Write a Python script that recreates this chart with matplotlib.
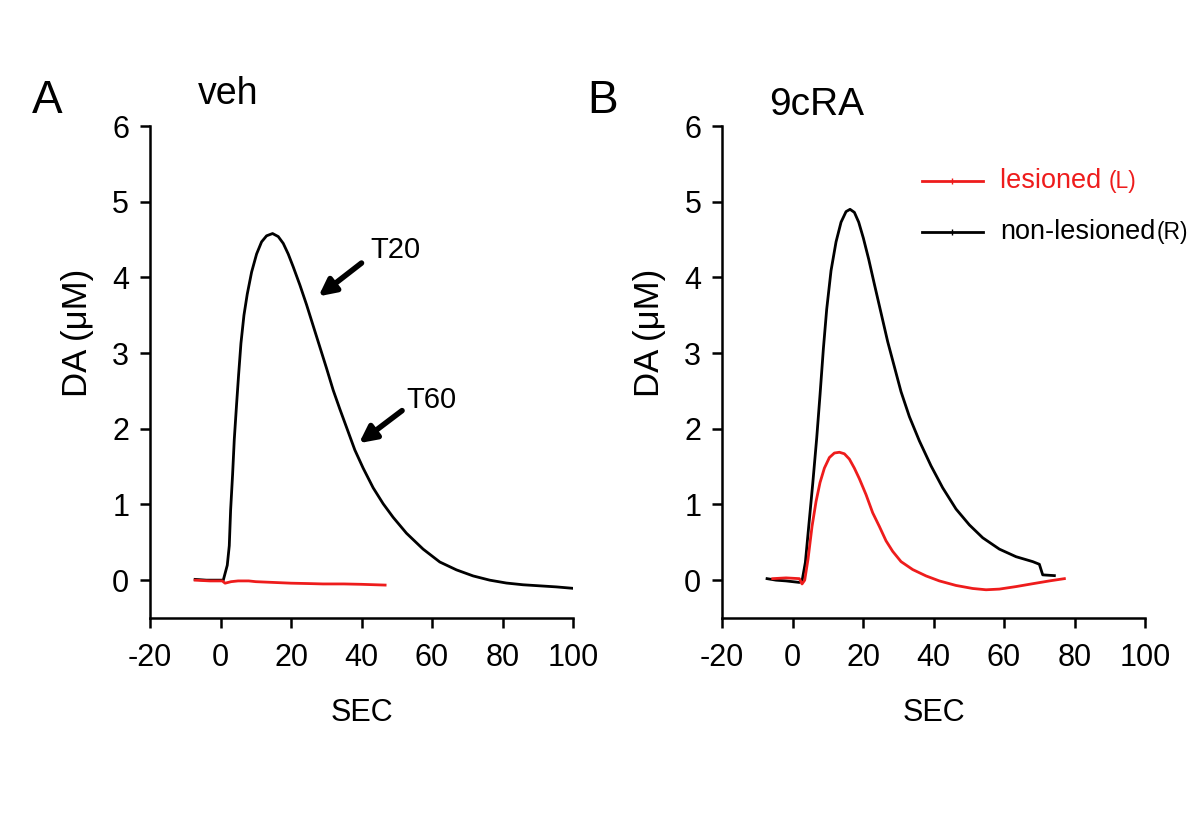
import matplotlib
matplotlib.use("Agg")
import matplotlib.pyplot as plt

plt.rcParams['font.family'] = ['Liberation Sans', 'DejaVu Sans']

# ---- Panel A (veh) ----
a_black_x = [-7.2, -4.0, -1.0, 0.79, 1.92, 2.49, 2.87, 3.43, 3.91, 4.57, 5.13, 5.80, 6.65, 7.59,
             8.82, 10.24, 11.65, 13.07, 14.77, 16.38, 17.80, 19.21, 20.63, 22.52, 24.41, 26.30,
             28.19, 30.08, 31.97, 33.86, 35.75, 38.11, 40.47, 43.31, 46.14, 48.98, 52.76, 57.48,
             62.21, 66.93, 71.66, 76.38, 81.10, 85.83, 90.55, 95.28, 100.0]
a_black_y = [0.01, 0.0, 0.0, 0.0, 0.197, 0.455, 0.925, 1.395, 1.86, 2.33, 2.71, 3.13, 3.50, 3.78,
             4.07, 4.31, 4.47, 4.55, 4.58, 4.54, 4.45, 4.31, 4.14, 3.90, 3.64, 3.36,
             3.08, 2.80, 2.51, 2.26, 2.02, 1.72, 1.48, 1.22, 1.01, 0.83, 0.62, 0.41,
             0.24, 0.136, 0.056, 0.0, -0.038, -0.061, -0.075, -0.089, -0.108]
a_red_x = [-7.2, -3.0, 0.5, 1.3, 3.0, 5.0, 8.0, 10.0, 15.0, 20.0, 25.0, 29.1, 35.0, 40.0, 46.7]
a_red_y = [0.0, -0.01, -0.01, -0.04, -0.02, -0.01, -0.01, -0.02, -0.03, -0.04, -0.045, -0.05,
           -0.05, -0.055, -0.065]

# ---- Panel B (9cRA) ----
b_black_x = [-7.23, -4.68, -1.84, 1.94, 2.70, 3.64, 4.59, 5.72, 6.86, 7.80, 8.75, 9.69, 10.92,
             12.34, 13.76, 15.18, 16.31, 17.54, 18.77, 20.09, 21.61, 23.22, 25.11, 27.00, 28.89,
             30.78, 33.15, 35.98, 39.29, 42.60, 46.38, 50.17, 53.95, 58.68, 63.40, 68.13, 70.02,
             70.97, 74.28]
b_black_y = [0.02, 0.0, -0.01, -0.03, -0.01, 0.235, 0.71, 1.27, 1.88, 2.45, 3.06, 3.58, 4.09,
             4.47, 4.73, 4.87, 4.90, 4.86, 4.73, 4.52, 4.24, 3.91, 3.53, 3.15, 2.82,
             2.49, 2.16, 1.84, 1.51, 1.22, 0.94, 0.73, 0.56, 0.41, 0.31, 0.245, 0.21,
             0.07, 0.06]
b_red_x = [-5.63, -1.84, 1.94, 2.70, 3.45, 4.40, 5.53, 6.67, 7.80, 9.03, 10.45, 11.87, 13.29,
           14.70, 16.12, 17.54, 18.96, 20.85, 22.74, 24.63, 26.52, 28.42, 30.78, 34.09, 37.87,
           41.65, 46.38, 51.11, 54.89, 58.68, 63.40, 68.13, 72.86, 77.12]
b_red_y = [0.02, 0.03, 0.02, -0.05, 0.0, 0.28, 0.71, 1.04, 1.29, 1.48, 1.62, 1.68, 1.69,
           1.67, 1.60, 1.48, 1.34, 1.13, 0.89, 0.71, 0.52, 0.38, 0.245, 0.14, 0.056,
           -0.01, -0.07, -0.11, -0.127, -0.118, -0.085, -0.047, -0.01, 0.02]

x_ticks = [-20, 0, 20, 40, 60, 80, 100]
y_ticks = [0, 1, 2, 3, 4, 5, 6]

RED = '#ee1c1c'
LW = 2.0

fig = plt.figure(figsize=(12, 8.24), dpi=100)
axA = fig.add_axes([0.125, 0.25, 0.3525, 0.597])
axB = fig.add_axes([0.6017, 0.25, 0.3525, 0.597])

for ax in (axA, axB):
    ax.set_xlim(-20, 100)
    ax.set_ylim(-0.5, 6)
    ax.set_xticks(x_ticks)
    ax.set_yticks(y_ticks)
    ax.set_xticklabels([str(v) for v in x_ticks])
    ax.set_yticklabels([str(v) for v in y_ticks])
    for s in ('top', 'right'):
        ax.spines[s].set_visible(False)
    for s in ('left', 'bottom'):
        ax.spines[s].set_linewidth(1.8)
    ax.tick_params(axis='both', direction='out', length=7, width=1.8, labelsize=22)
    ax.tick_params(axis='y', pad=8)
    ax.tick_params(axis='x', pad=11)
    ax.set_xlabel('SEC', fontsize=22, labelpad=18)
    ax.set_ylabel('DA (μM)', fontsize=25, labelpad=13, y=0.58)

# Panel A curves
axA.plot(a_black_x, a_black_y, color='black', lw=LW)
axA.plot(a_red_x, a_red_y, color=RED, lw=LW)

# Panel B curves
axB.plot(b_black_x, b_black_y, color='black', lw=LW)
axB.plot(b_red_x, b_red_y, color=RED, lw=LW)

# Arrows in panel A
arrow_style = dict(arrowstyle='-|>,head_length=1.0,head_width=0.5', color='black', lw=4,
                   shrinkA=0, shrinkB=0)
axA.annotate('', xy=(27.8, 3.75), xytext=(40.0, 4.19), arrowprops=arrow_style)
axA.annotate('', xy=(39.3, 1.81), xytext=(51.5, 2.24), arrowprops=arrow_style)
axA.text(42.4, 4.36, 'T20', fontsize=21, va='center', ha='left')
axA.text(52.8, 2.38, 'T60', fontsize=21, va='center', ha='left')

# Legend in panel B (manual)
axB.plot([36.7, 54.0], [5.27, 5.27], color=RED, lw=LW)
axB.plot([45.3], [5.27], marker='|', ms=4, color=RED)
axB.plot([36.7, 54.0], [4.60, 4.60], color='black', lw=LW)
axB.plot([45.3], [4.60], marker='|', ms=4, color='black')
t1 = axB.text(58.9, 5.27, 'lesioned ', fontsize=19.5, color=RED, va='center', ha='left')
axB.annotate('(L)', xy=(1, 0), xycoords=t1, xytext=(0, 1), textcoords='offset points',
             fontsize=16.5, color=RED, va='bottom', ha='left')
t2 = axB.text(58.9, 4.60, 'non-lesioned', fontsize=19.5, color='black', va='center', ha='left')
axB.annotate('(R)', xy=(1, 0), xycoords=t2, xytext=(1, 1), textcoords='offset points',
             fontsize=16.5, color='black', va='bottom', ha='left')

# Panel letters and titles
fig.text(32 / 1200, 1 - 113 / 824, 'A', fontsize=33, ha='left', va='baseline')
fig.text(587 / 1200, 1 - 113 / 824, 'B', fontsize=33, ha='left', va='baseline')
fig.text(198 / 1200, 1 - 104 / 824, 'veh', fontsize=27, ha='left', va='baseline')
fig.text(769 / 1200, 1 - 115 / 824, '9cRA', fontsize=28, ha='left', va='baseline')

fig.savefig('out.png', dpi=100, facecolor='white')
